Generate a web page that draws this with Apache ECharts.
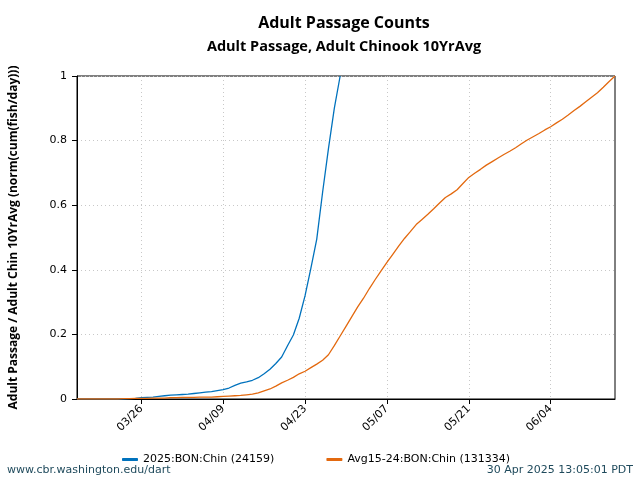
<!DOCTYPE html>
<html>
<head>
<meta charset="utf-8">
<script src="https://cdn.jsdelivr.net/npm/echarts@6/dist/echarts.min.js"></script>
<style>html,body{margin:0;padding:0;background:#fff}#c{width:640px;height:480px}</style>
</head>
<body>
<div id="c"></div>
<script>
const categories = [
'03/15','03/16','03/17','03/18','03/19','03/20','03/21','03/22','03/23','03/24','03/25','03/26','03/27','03/28','03/29','03/30','03/31',
'04/01','04/02','04/03','04/04','04/05','04/06','04/07','04/08','04/09','04/10','04/11','04/12','04/13','04/14','04/15','04/16','04/17','04/18','04/19','04/20','04/21','04/22','04/23','04/24','04/25','04/26','04/27','04/28','04/29','04/30',
'05/01','05/02','05/03','05/04','05/05','05/06','05/07','05/08','05/09','05/10','05/11','05/12','05/13','05/14','05/15','05/16','05/17','05/18','05/19','05/20','05/21','05/22','05/23','05/24','05/25','05/26','05/27','05/28','05/29','05/30','05/31',
'06/01','06/02','06/03','06/04','06/05','06/06','06/07','06/08','06/09','06/10','06/11','06/12','06/13','06/14','06/15'];
const tickLabels = ['03/26','04/09','04/23','05/07','05/21','06/04'];
const yTicks = [0, 0.2, 0.4, 0.6, 0.8, 1];

const series2025 = [0,0,0,0,0,0,0,0,0,0.001,0.002,0.004,0.005,0.006,0.008,0.010,0.012,0.013,0.014,0.015,0.017,0.019,0.021,0.023,0.026,0.029,0.034,0.042,0.049,0.053,0.058,0.066,0.078,0.092,0.110,0.130,0.165,0.198,0.250,0.320,0.405,0.495,0.640,0.775,0.900,1.0];
const seriesAvg = [0,0,0,0,0,0,0,0,0.001,0.001,0.002,0.002,0.002,0.003,0.003,0.003,0.004,0.004,0.005,0.005,0.005,0.006,0.006,0.006,0.007,0.008,0.009,0.010,0.011,0.013,0.015,0.019,0.025,0.031,0.040,0.050,0.058,0.067,0.078,0.086,0.097,0.108,0.120,0.137,0.165,0.195,0.225,0.255,0.285,0.312,0.342,0.370,0.397,0.423,0.448,0.473,0.497,0.518,0.540,0.556,0.572,0.589,0.607,0.624,0.635,0.648,0.667,0.686,0.699,0.711,0.724,0.735,0.746,0.757,0.767,0.778,0.790,0.802,0.812,0.822,0.833,0.843,0.855,0.866,0.879,0.893,0.906,0.920,0.934,0.948,0.965,0.983,1.0];

const names = ['2025:BON:Chin (24159)', 'Avg15-24:BON:Chin (131334)'];
const colors = ['#0072bd', '#e3690f'];

const chart = echarts.init(document.getElementById('c'), null, {renderer: 'canvas'});
const isTick = (i, v) => tickLabels.indexOf(categories[i]) >= 0;
const gridStyle = {color: '#c8c8c8', type: [1, 3], width: 1};
chart.setOption({
  animation: false,
  backgroundColor: '#fff',
  textStyle: {fontFamily: 'DejaVu Sans'},
  grid: {left: 73, right: 25, top: 76, bottom: 81, show: true, borderColor: '#000', borderWidth: 1},
  graphic: [
    {type: 'text', x: 344, y: 23, style: {text: 'Adult Passage Counts', font: 'bold 16px "Open Sans"', fill: '#000', textAlign: 'center', textVerticalAlign: 'middle'}},
    {type: 'text', x: 344, y: 47, style: {text: 'Adult Passage, Adult Chinook 10YrAvg', font: 'bold 14.5px "Open Sans"', fill: '#000', textAlign: 'center', textVerticalAlign: 'middle'}},
    {type: 'text', x: 7, y: 470, style: {text: 'www.cbr.washington.edu/dart', font: '11px "DejaVu Sans"', fill: '#1f4a5c', textAlign: 'left', textVerticalAlign: 'middle'}},
    {type: 'text', x: 633, y: 470, style: {text: '30 Apr 2025 13:05:01 PDT', font: '11px "DejaVu Sans"', fill: '#1f4a5c', textAlign: 'right', textVerticalAlign: 'middle'}}
  ],
  legend: {
    left: 117, top: 449, itemWidth: 16, itemHeight: 3, itemGap: 52, icon: 'roundRect',
    textStyle: {fontFamily: 'DejaVu Sans', fontSize: 11, color: '#000'},
    data: names
  },
  xAxis: {
    type: 'category', data: categories, boundaryGap: false,
    axisLine: {lineStyle: {color: '#000', width: 1}},
    axisTick: {show: true, interval: isTick, length: 5, lineStyle: {color: '#000'}},
    axisLabel: {interval: isTick, rotate: 45, fontFamily: 'DejaVu Sans', fontSize: 11, color: '#000', margin: 8},
    splitLine: {show: true, interval: isTick, lineStyle: gridStyle}
  },
  yAxis: {
    type: 'value', min: 0, max: 1, interval: 0.2,
    name: 'Adult Passage / Adult Chin 10YrAvg (norm(cum(fish/day)))',
    nameLocation: 'middle', nameGap: 57, nameRotate: 90,
    nameTextStyle: {fontFamily: 'Open Sans', fontWeight: 'bold', fontSize: 12, color: '#000'},
    axisLine: {show: true, lineStyle: {color: '#000', width: 1}},
    axisTick: {show: true, length: 5, lineStyle: {color: '#000'}},
    axisLabel: {fontFamily: 'DejaVu Sans', fontSize: 11, color: '#000', margin: 10,
      formatter: v => { const t = yTicks.find(x => Math.abs(x - v) < 1e-9); return String(t !== undefined ? t : v); }},
    splitLine: {show: true, lineStyle: gridStyle}
  },
  series: [
    {name: names[0], type: 'line', data: series2025, showSymbol: false, symbol: 'none', lineStyle: {color: colors[0], width: 1.3}, itemStyle: {color: colors[0]}},
    {name: names[1], type: 'line', data: seriesAvg, showSymbol: false, symbol: 'none', lineStyle: {color: colors[1], width: 1.3}, itemStyle: {color: colors[1]}}
  ]
});
</script>
</body>
</html>
